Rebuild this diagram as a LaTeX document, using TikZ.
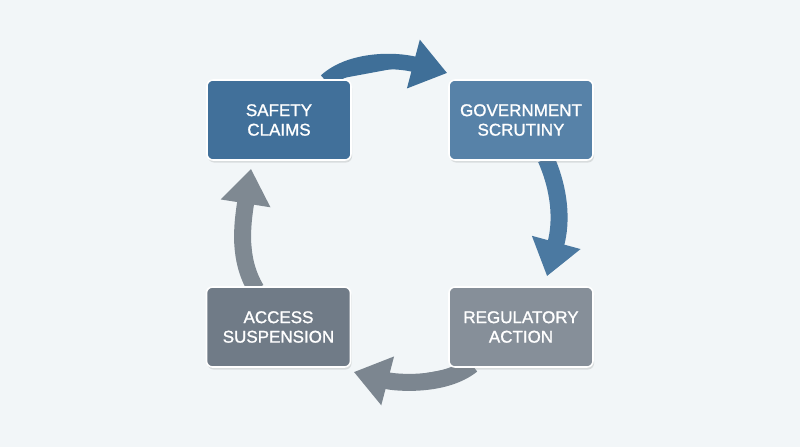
\documentclass[tikz,border=0pt]{standalone}
\usepackage{fontspec}
\setmainfont{Liberation Sans}
\newfontfamily\lblfont[FakeBold=1.2]{Liberation Sans}
\usetikzlibrary{arrows.meta,shadows,calc}
\pgfdeclarelayer{bg}
\pgfdeclarelayer{background}
\pgfsetlayers{bg,background,main}
\definecolor{bgc}{HTML}{F2F6F8}
\definecolor{boxA}{HTML}{41709A}
\definecolor{boxB}{HTML}{5782A8}
\definecolor{boxC}{HTML}{868F99}
\definecolor{boxD}{HTML}{707B87}
\definecolor{arrA}{HTML}{3F6F98}
\definecolor{arrB}{HTML}{4B79A1}
\definecolor{arrC}{HTML}{7C8690}
\definecolor{arrD}{HTML}{7F8992}
\tikzset{
  stagebox/.style={draw=white, line width=1.6pt, rounded corners=6pt,
    minimum width=144pt, minimum height=80pt, inner sep=0pt,
    text=white, align=center, font=\lblfont\fontsize{17}{19.5}\selectfont,
    drop shadow={opacity=0.22, shadow xshift=1pt, shadow yshift=-2.5pt}},
  cyclearrow/.style={line width=17pt, -{Triangle[length=35pt,width=48pt]}}
}
\begin{document}
\begin{tikzpicture}[x=1pt,y=-1pt]
\begin{pgfonlayer}{bg}
\fill[bgc] (0,0) rectangle (800,447);
\end{pgfonlayer}
\useasboundingbox (0,0) rectangle (800,447);
\node[stagebox, fill=boxA] (sc) at (279,120) {SAFETY\\CLAIMS};
\node[stagebox, fill=boxB] (gs) at (521,120) {GOVERNMENT\\SCRUTINY};
\node[stagebox, fill=boxC] (rg) at (521,327) {REGULATORY\\ACTION};
\node[stagebox, fill=boxD] (as) at (278.5,327) {ACCESS\\SUSPENSION};
\begin{pgfonlayer}{background}
\coordinate (a1s) at ($(sc.north)+(47,2)$);
\coordinate (a1e) at ($(gs.west)+(-1,-47)$);
\coordinate (a2s) at ($(gs.south)+(25,-2)$);
\coordinate (a2e) at ($(rg.north)+(26,-10)$);
\coordinate (a3s) at ($(rg.south)+(-49,-3)$);
\coordinate (a3e) at ($(as.east)+(2.5,45)$);
\coordinate (a4s) at ($(as.north)+(-22.5,3)$);
\coordinate (a4e) at ($(sc.south)+(-28,8)$);
\draw[cyclearrow, line width=15.5pt, draw=arrA, fill=arrA] (a1s) .. controls +(24,-22) and +(-53,-14) .. (a1e);
\draw[cyclearrow, draw=arrB, fill=arrB] (a2s) .. controls +(14,32) and +(15,-55) .. (a2e);
\draw[cyclearrow, draw=arrC, fill=arrC] (a3s) .. controls +(-27,22) and +(42,11) .. (a3e);
\draw[cyclearrow, draw=arrD, fill=arrD] (a4s) .. controls +(-18,-30) and +(-9,57) .. (a4e);
\end{pgfonlayer}
\end{tikzpicture}
\end{document}
